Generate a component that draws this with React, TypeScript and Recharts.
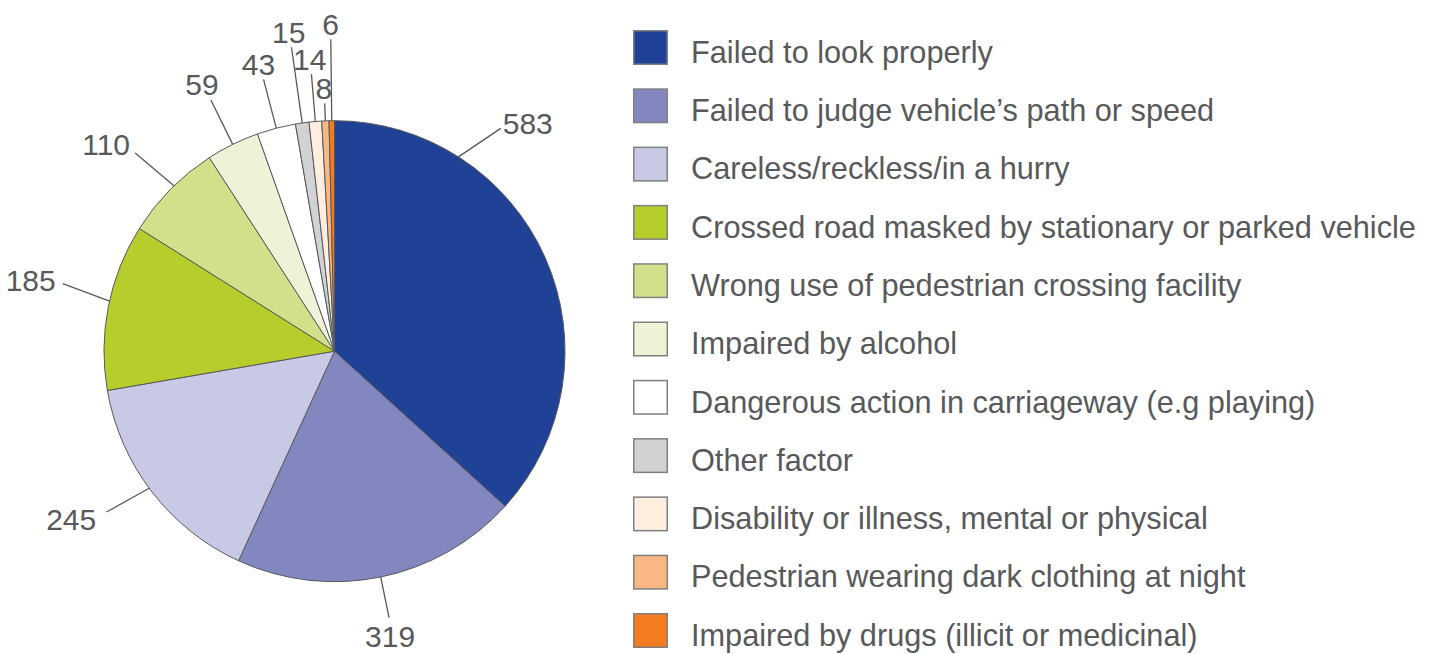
import React from "react";
import { PieChart, Pie, Cell, Legend } from "recharts";

const categories = [
  "Failed to look properly",
  "Failed to judge vehicle\u2019s path or speed",
  "Careless/reckless/in a hurry",
  "Crossed road masked by stationary or parked vehicle",
  "Wrong use of pedestrian crossing facility",
  "Impaired by alcohol",
  "Dangerous action in carriageway (e.g playing)",
  "Other factor",
  "Disability or illness, mental or physical",
  "Pedestrian wearing dark clothing at night",
  "Impaired by drugs (illicit or medicinal)",
];

const values = [583, 319, 245, 185, 110, 59, 43, 15, 14, 8, 6];

const colors = [
  "#1f4196",
  "#8387c0",
  "#c8c9e5",
  "#b6cd2c",
  "#d2e08a",
  "#eef3d7",
  "#ffffff",
  "#d1d2d4",
  "#feeee0",
  "#f9b784",
  "#f37b20",
];

// label leader styling (lengths / small nudges in degrees), not data
const leaderRadius = [278, 272, 279, 280, 281, 280, 281, 307, 278, 248, 312];
const labelShift = [33.6, 0, -1.1, -1.4, -1.2, 0, 0, 0, 0, 0, 0];
const leaderTilt = [-4.2, 0, -1.3, -1.4, 1.0, 0, 0, 0, 0, 0, 0];

const data = categories.map((name, i) => ({ name, value: values[i] }));

const RAD = Math.PI / 180;
const TEXT = "#58595b";
const FONT = "'Liberation Sans', Arial, Helvetica, sans-serif";

function renderLabel(props: any) {
  const { cx, cy, midAngle, outerRadius, index, value } = props;
  const a0 = midAngle + labelShift[index];
  const a1 = a0 + leaderTilt[index];
  const sx = cx + outerRadius * Math.cos(a0 * RAD);
  const sy = cy - outerRadius * Math.sin(a0 * RAD);
  const r = leaderRadius[index];
  const ex = cx + r * Math.cos(a1 * RAD);
  const ey = cy - r * Math.sin(a1 * RAD);
  const s = Math.sin(a1 * RAD);
  const c = Math.cos(a1 * RAD);

  let tx: number, ty: number, anchor: "start" | "middle" | "end";
  if (s > 0.85) {
    anchor = "middle";
    tx = ex + c * 20;
    ty = ey - 4.5;
  } else if (s < -0.85) {
    anchor = "middle";
    tx = ex + 1;
    ty = ey + 29.5;
  } else if (c < 0) {
    anchor = "end";
    tx = ex - (8 - 4 * s);
    ty = ey - 13 * s + 10.7;
  } else {
    anchor = "start";
    tx = ex + 2;
    ty = ey + 6;
  }

  return (
    <g key={`lbl-${index}`}>
      <line x1={sx} y1={sy} x2={ex} y2={ey} stroke={TEXT} strokeWidth={1.3} />
      <text x={tx} y={ty} textAnchor={anchor} fill={TEXT} fontSize={30} fontFamily={FONT}>
        {value}
      </text>
    </g>
  );
}

const ROW = 58.3;

function LegendBox() {
  return (
    <svg width={800} height={624} style={{ display: "block", overflow: "visible" }}>
      {categories.map((name, i) => (
        <g key={name}>
          <rect
            x={0.75}
            y={i * ROW + 0.75}
            width={33.5}
            height={33.5}
            fill={colors[i]}
            stroke="#808080"
            strokeWidth={1.5}
          />
          <text x={58} y={i * ROW + 32.7} fill={TEXT} fontSize={30.7} fontFamily={FONT}>
            {name}
          </text>
        </g>
      ))}
    </svg>
  );
}

export default function App() {
  return (
    <div style={{ position: "absolute", left: 0, top: 0, background: "#fff" }}>
      <PieChart width={1437} height={654} margin={{ top: 0, right: 0, bottom: 0, left: 0 }}>
        <Pie
          data={data}
          dataKey="value"
          nameKey="name"
          cx={334.5}
          cy={351.2}
          outerRadius={230.5}
          startAngle={90}
          endAngle={-270}
          stroke={TEXT}
          strokeWidth={1}
          label={renderLabel}
          labelLine={false}
          isAnimationActive={false}
        >
          {data.map((d, i) => (
            <Cell key={d.name} fill={colors[i]} />
          ))}
        </Pie>
        <Legend
          content={() => <LegendBox />}
          wrapperStyle={{ position: "absolute", left: 633, top: 30, width: 800, height: 624 }}
        />
      </PieChart>
    </div>
  );
}
